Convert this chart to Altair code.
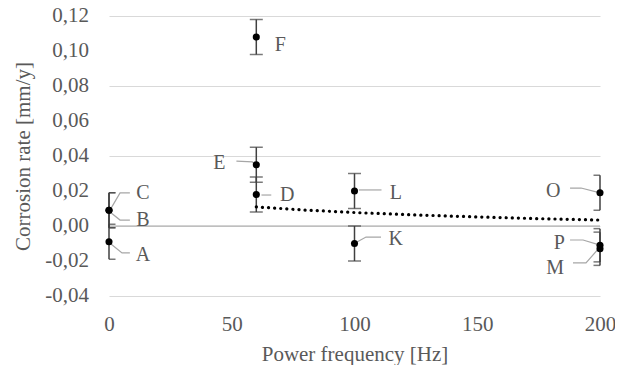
import altair as alt
import pandas as pd

# Measured points
labels = ["A", "B", "C", "D", "E", "F", "K", "L", "M", "O", "P"]
freq = [0, 0, 0, 60, 60, 60, 100, 100, 200, 200, 200]
rate = [-0.009, 0.009, 0.009, 0.018, 0.035, 0.108, -0.010, 0.020, -0.013, 0.019, -0.011]
err = [0.010, 0.010, 0.010, 0.010, 0.010, 0.010, 0.010, 0.010, 0.0095, 0.010, 0.0095]

# Label text positions (data units)
lab_x = [13.8, 13.8, 13.8, 72.6, 45.0, 69.8, 116.8, 116.8, 181.7, 180.9, 183.4]
lab_y = [-0.0166, 0.0034, 0.0189, 0.0177, 0.0360, 0.1034, -0.0074, 0.0189, -0.0240, 0.0200, -0.0097]

# Leader lines (data units), grouped by label
lead_id = ["A", "A", "A", "B", "B", "B", "C", "C", "C", "D", "D", "E", "E", "E",
           "L", "L", "K", "K", "K", "O", "O", "O", "P", "P", "P", "M", "M", "M"]
lead_ord = [0, 1, 2, 0, 1, 2, 0, 1, 2, 0, 1, 0, 1, 2,
            0, 1, 0, 1, 2, 0, 1, 2, 0, 1, 2, 0, 1, 2]
lead_x = [8.5, 5.3, 0.8, 8.5, 4.5, 0.4, 8.5, 4.5, 0.4, 62.1, 66.1, 51.9, 58.4, 60.0,
          101.8, 111.0, 101.0, 104.7, 110.8, 187.8, 192.3, 200.0, 187.8, 193.1, 200.0,
          189.0, 194.3, 200.0]
lead_y = [-0.0154, -0.0154, -0.0103, 0.0034, 0.0034, 0.0080, 0.0189, 0.0189, 0.0091,
          0.0177, 0.0177, 0.0371, 0.0366, 0.0349, 0.0206, 0.0206, -0.0091, -0.0063,
          -0.0063, 0.0217, 0.0217, 0.0189, -0.0080, -0.0080, -0.0109, -0.0211,
          -0.0211, -0.0120]

# Trend line
trend_x = [60, 80, 100, 125, 150, 175, 200]
trend_y = [0.0109, 0.0091, 0.0077, 0.0063, 0.0052, 0.0042, 0.0034]

x_ticks = [0, 50, 100, 150, 200]
y_ticks = [-0.04, -0.02, 0.0, 0.02, 0.04, 0.06, 0.08, 0.10, 0.12]
y_tick_labels = ["-0,04", "-0,02", "0,00", "0,02", "0,04", "0,06", "0,08", "0,10", "0,12"]

FONT = "Liberation Serif"
GREY = "#595959"

pts = pd.DataFrame({"label": labels, "freq": freq, "rate": rate, "err": err,
                    "lx": lab_x, "ly": lab_y})
pts["lo"] = pts["rate"] - pts["err"]
pts["hi"] = pts["rate"] + pts["err"]
lead = pd.DataFrame({"id": lead_id, "o": lead_ord, "x": lead_x, "y": lead_y})
trend = pd.DataFrame({"x": trend_x, "y": trend_y})
yt = pd.DataFrame({"v": y_ticks, "t": y_tick_labels})

PW = 491

xs = alt.Scale(domain=[0, 200], nice=False)
ys = alt.Scale(domain=[-0.04, 0.12], nice=False)

base = alt.Chart(pts)

axes = base.mark_point(opacity=0).encode(
    x=alt.X("freq:Q", scale=xs, title="Power frequency [Hz]",
            axis=alt.Axis(values=x_ticks, grid=False, domain=False, ticks=False,
                          labelFlush=False, labelOverlap=False,
                          labelFont=FONT, labelFontSize=21, labelColor=GREY,
                          labelPadding=17, titleFont=FONT, titleFontSize=21,
                          titleColor=GREY, titleFontWeight="normal", titlePadding=9)),
    y=alt.Y("rate:Q", scale=ys, title="Corrosion rate [mm/y]",
            axis=alt.Axis(values=y_ticks, grid=True, gridColor="#d9d9d9",
                          domain=False, ticks=False, labels=False,
                          titleFont=FONT, titleFontSize=21,
                          titleColor=GREY, titleFontWeight="normal", titlePadding=76)),
)

ylabels = alt.Chart(yt).mark_text(font=FONT, fontSize=21, color=GREY, align="right",
                                  baseline="middle", dx=-20).encode(
    x=alt.value(0), y=alt.Y("v:Q", scale=ys), text="t:N")

NX = alt.X("freq:Q", scale=xs)

zero = alt.Chart(pd.DataFrame({"z": [0.0]})).mark_rule(color="#a6a6a6", strokeWidth=1.2).encode(
    y=alt.Y("z:Q", scale=ys), x=alt.value(0), x2=alt.value(PW))

bars = base.mark_rule(color="#404040", strokeWidth=1.5).encode(
    x=NX, y=alt.Y("lo:Q", scale=ys), y2="hi:Q")
cap_lo = base.mark_tick(color="#404040", thickness=1.5, size=13, orient="horizontal",
                        clip=True).encode(x=NX, y=alt.Y("lo:Q", scale=ys))
cap_hi = base.mark_tick(color="#404040", thickness=1.5, size=13, orient="horizontal",
                        clip=True).encode(x=NX, y=alt.Y("hi:Q", scale=ys))

trend_line = alt.Chart(trend).mark_line(color="black", strokeWidth=3.2, strokeCap="round",
                                        strokeDash=[0.1, 6]).encode(
    x=alt.X("x:Q", scale=xs), y=alt.Y("y:Q", scale=ys))

leaders = alt.Chart(lead).mark_line(color="#a6a6a6", strokeWidth=1.2).encode(
    x=alt.X("x:Q", scale=xs), y=alt.Y("y:Q", scale=ys),
    detail="id:N", order="o:Q")

dots = base.mark_circle(color="black", size=50, opacity=1).encode(
    x=NX, y=alt.Y("rate:Q", scale=ys))

texts = base.mark_text(font=FONT, fontSize=20, color=GREY).encode(
    x=alt.X("lx:Q", scale=xs), y=alt.Y("ly:Q", scale=ys), text="label:N")

chart = alt.layer(axes, ylabels, zero, leaders, bars, cap_lo, cap_hi, trend_line, dots,
                  texts).properties(
    width=PW, height=280,
    autosize=alt.AutoSizeParams(type="none"),
    padding={"left": 101, "top": 8, "right": 15, "bottom": 69},
).configure_view(stroke=None)

chart.save("out.html", embed_options={"renderer": "svg", "actions": False})
